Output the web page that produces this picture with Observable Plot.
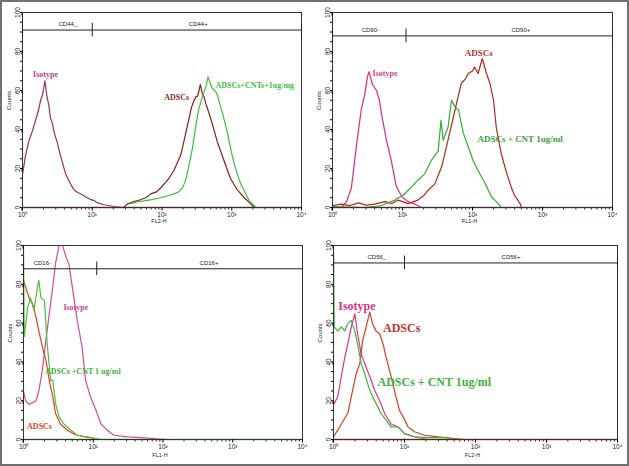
<!DOCTYPE html>
<html>
<head>
<meta charset="utf-8">
<script src="https://cdn.jsdelivr.net/npm/d3@7"></script>
<script src="https://cdn.jsdelivr.net/npm/@observablehq/plot@0.6"></script>
<style>
  html, body { margin: 0; padding: 0; background: #fff; }
  #wrap { position: relative; width: 629px; height: 466px; background: #fff; overflow: hidden; }
  #wrap svg { position: absolute; font-family: "Liberation Sans", Arial, sans-serif; }
  #border { position: absolute; left: 0; top: 0; width: 629px; height: 466px; box-sizing: border-box; border: 2px solid #707070; pointer-events: none; }
</style>
</head>
<body>
<div id="wrap"><div id="border"></div></div>
<script>
// x values are log10 of fluorescence (decade exponent), y values are counts
const xTickLabels = ["10⁰", "10¹", "10²", "10³", "10⁴"];

// Panel A: CD44 (FL2-H)
const cd44Isotype = [[0,17],[0.04,26],[0.09,34],[0.14,39],[0.19,45],[0.23,50],[0.26,55],[0.28,57],[0.3,60],[0.32,65],[0.34,60],[0.35,57],[0.38,52],[0.4,46],[0.43,43],[0.45,39],[0.5,33],[0.55,26],[0.62,17],[0.69,12],[0.74,9],[0.78,8],[0.83,7],[0.88,6],[0.93,5],[0.98,4],[1.03,3.5],[1.07,2.5],[1.17,1.4],[1.31,0.5],[1.45,0]];
const cd44ADSCs = [[1.45,0],[1.5,1.7],[1.6,3],[1.69,4],[1.77,5],[1.84,7],[1.92,8],[1.98,10],[2.08,14],[2.17,19],[2.22,23],[2.27,27],[2.34,38],[2.39,46],[2.42,51],[2.46,55],[2.49,57],[2.51,57],[2.53,60],[2.55,63],[2.58,58],[2.6,57],[2.63,53],[2.65,51],[2.72,43],[2.79,34],[2.85,28],[2.89,24],[2.98,15],[3.08,9],[3.18,5],[3.27,2],[3.32,0]];
const cd44CNT = [[1.55,2],[1.65,3],[1.74,3.4],[1.85,4],[1.98,5],[2.08,6],[2.17,7],[2.24,8],[2.29,10],[2.33,13],[2.36,17],[2.4,24],[2.44,31],[2.48,41],[2.53,51],[2.58,57],[2.63,62],[2.66,67],[2.69,64],[2.72,61],[2.76,60],[2.79,58],[2.83,53],[2.87,48],[2.94,38],[3.01,26],[3.08,17],[3.13,12],[3.18,8.6],[3.25,3.4],[3.32,1],[3.35,0]];

// Panel B: CD90 (FL1-H)
const cd90Isotype = [[0,0],[0.13,0],[0.2,3],[0.27,10],[0.31,22],[0.34,31],[0.38,42],[0.41,50],[0.46,58],[0.5,67],[0.52,69.6],[0.55,66],[0.57,63],[0.63,60],[0.67,55],[0.7,48],[0.77,34.5],[0.84,24],[0.91,11],[0.99,5.5],[1.08,3],[1.18,1.7],[1.27,0],[4,0]];
const cd90ADSCs = [[0,1],[0.13,1.7],[0.25,1],[0.37,2.4],[0.48,1.2],[0.6,1.7],[0.75,3],[0.85,2],[0.94,3.8],[1.08,2],[1.22,3.8],[1.3,6],[1.37,9],[1.46,12],[1.56,21],[1.65,34.5],[1.75,50],[1.84,63.6],[1.9,66],[1.94,68.7],[2.0,70],[2.03,72],[2.08,68.7],[2.14,76.4],[2.2,68.7],[2.25,63.6],[2.3,55],[2.34,41],[2.41,27.7],[2.49,17.4],[2.56,9.7],[2.6,6.3],[2.68,2],[2.7,0]];
const cd90CNT = [[0,0.5],[0.46,0],[0.7,1],[0.89,3.8],[1.01,6.3],[1.13,10.6],[1.22,14],[1.32,17.4],[1.41,24],[1.51,29],[1.55,44.8],[1.58,34.5],[1.65,41],[1.7,55],[1.75,51.6],[1.8,50],[1.87,38],[1.94,31],[2.01,24],[2.08,19],[2.18,12.3],[2.27,5.5],[2.37,2],[2.41,0]];

// Panel C: CD16 (FL1-H)
const cd16Isotype = [[0,25],[0.03,20],[0.08,18],[0.13,19],[0.18,20],[0.22,25],[0.27,35.7],[0.32,51],[0.37,65],[0.42,78.7],[0.46,91],[0.51,100],[0.56,100],[0.61,94],[0.65,90.6],[0.7,78.7],[0.77,61.4],[0.84,47.7],[0.89,30.5],[0.96,22],[1.04,15],[1.11,8],[1.2,4.8],[1.3,2.2],[1.49,1.4],[1.68,1],[1.87,0.5],[2.06,0]];
const cd16ADSCs = [[0,82],[0.03,78.6],[0.08,73],[0.13,70],[0.18,63],[0.22,56],[0.27,47.7],[0.32,41],[0.37,30.5],[0.42,22],[0.46,13.4],[0.53,8],[0.63,4.8],[0.73,2.7],[0.87,1.4],[1.01,0.5],[1.06,0]];
const cd16CNT = [[0,100],[0.01,53],[0.06,68],[0.1,73],[0.15,66.6],[0.2,78.6],[0.22,82],[0.25,73],[0.3,71.7],[0.34,49],[0.39,30.5],[0.42,30.5],[0.46,18.5],[0.51,11.7],[0.58,8],[0.68,4.8],[0.77,2.2],[0.92,1.4],[1.11,0],[4,0]];

// Panel D: CD56 (FL2-H)
const cd56Isotype = [[0.01,18.5],[0.06,22],[0.11,32.6],[0.16,42.5],[0.2,49],[0.25,58],[0.3,64.8],[0.34,54.5],[0.39,44],[0.44,39],[0.51,32.6],[0.58,25.4],[0.65,20],[0.72,13.4],[0.81,8],[0.91,6.5],[1.0,3],[1.14,1.4],[1.33,0]];
const cd56ADSCs = [[0,1.4],[0.06,4.8],[0.11,8],[0.2,13.4],[0.27,25.4],[0.32,34],[0.37,39],[0.41,51],[0.46,58],[0.51,65.7],[0.55,59.7],[0.6,56],[0.65,54.5],[0.7,49],[0.74,42.5],[0.81,32.6],[0.88,22],[0.93,15],[0.98,11.7],[1.05,6.5],[1.14,4],[1.28,2.2],[1.47,1.4],[1.7,0.5],[1.85,0],[4,0]];
const cd56CNT = [[0,100],[0.01,58],[0.06,56],[0.11,58],[0.16,56],[0.2,59.7],[0.25,61.4],[0.3,56],[0.34,49],[0.39,39],[0.44,34],[0.48,28.8],[0.53,23.7],[0.6,18.5],[0.67,13.4],[0.74,10],[0.81,6.5],[0.91,6.5],[1.0,3],[1.14,1.4],[1.33,1],[1.61,1],[1.7,0]];

const minorX = d3.range(0, 4).flatMap(n => d3.range(2, 10).map(k => n + Math.log10(k)));

function panel(cfg) {
  const marks = [
    Plot.ruleY([0], {stroke: cfg.baseColor, strokeWidth: 1.6}),
    ...cfg.series.map(s => Plot.line(s.data, {x: d => d[0], y: d => d[1], stroke: s.color, strokeWidth: 1.2})),
    Plot.frame({stroke: "#333", strokeWidth: 1}),
    Plot.ruleY([{y: cfg.gateY, x1: 0, x2: 4}], {y: "y", x1: "x1", x2: "x2", stroke: "#222", strokeWidth: 1}),
    Plot.ruleX(cfg.gateTicks, {x: d => d, y1: cfg.gateY - 3.5, y2: cfg.gateY + 3.5, stroke: "#222", strokeWidth: 1}),
    Plot.text(cfg.gateLabels, {x: d => d[0], y: cfg.gateY, text: d => d[1], dy: -6, fontSize: 6, fill: "#222"}),
    ...cfg.labels.map(l => Plot.text([l], {x: d => d.x, y: d => d.y, text: d => d.t, fill: l.color, fontSize: l.size, fontWeight: "bold", fontFamily: "Liberation Serif, Times New Roman, serif"})),
    Plot.axisX(minorX, {tickSize: 2.5, tickFormat: () => "", stroke: "#333"}),
    Plot.axisX([0,1,2,3,4], {tickSize: 3.5, tickPadding: 1, tickFormat: d => xTickLabels[d], fontSize: 6.5, fill: "#222", label: null}),
    Plot.axisY(d3.range(0, 101, 5), {tickSize: 2, tickFormat: () => "", label: null}),
    Plot.axisY([0,20,40,60,80,100], {tickSize: 3, tickPadding: 2, rotate: -90, textAnchor: "middle", fontSize: 6.5, fill: "#222", label: null}),
    Plot.text(["Counts"], {frameAnchor: "left", dx: -13, rotate: -90, fontSize: 6, fill: "#222"}),
    Plot.text([cfg.xLabel], {frameAnchor: "bottom", dx: -3, dy: cfg.xLabelDy, fontSize: 5.5, fill: "#222"})
  ];
  const svg = Plot.plot({
    width: cfg.width, height: cfg.height,
    marginLeft: cfg.ml, marginRight: cfg.mr, marginTop: cfg.mt, marginBottom: cfg.mb,
    x: {type: "linear", domain: [0, 4]},
    y: {domain: [0, 100]},
    style: {background: "transparent", fontFamily: "Liberation Sans, Arial, sans-serif"},
    marks
  });
  svg.style.left = cfg.left + "px";
  svg.style.top = cfg.top + "px";
  document.getElementById("wrap").insertBefore(svg, document.getElementById("border"));
}

panel({
  left: 0, top: 0, width: 314, height: 230, ml: 22, mr: 13, mt: 12, mb: 23,
  baseColor: "#d42a2a", xLabel: "FL2-H", xLabelDy: 15,
  series: [
    {data: cd44Isotype, color: "#9a2f62"},
    {data: cd44ADSCs, color: "#8a1c1c"},
    {data: cd44CNT, color: "#3cbf3c"}
  ],
  gateY: 91, gateTicks: [0, 1, 4], gateLabels: [[0.65, "CD44_"], [2.52, "CD44+"]],
  labels: [
    {x: 0.33, y: 68, t: "Isotype", color: "#c23a7e", size: 8},
    {x: 2.21, y: 56.4, t: "ADSCs", color: "#8a1f1f", size: 8},
    {x: 3.33, y: 62.6, t: "ADSCs+CNTs+1ug/mg", color: "#3cbf3c", size: 8}
  ]
});

panel({
  left: 314, top: 0, width: 315, height: 230, ml: 18, mr: 17, mt: 12, mb: 23,
  baseColor: "#d83a8a", xLabel: "FL1-H", xLabelDy: 15,
  series: [
    {data: cd90Isotype, color: "#d92c7c"},
    {data: cd90ADSCs, color: "#b02a1c"},
    {data: cd90CNT, color: "#32ae32"}
  ],
  gateY: 88, gateTicks: [0, 1.05, 4], gateLabels: [[0.54, "CD90-"], [2.69, "CD90+"]],
  labels: [
    {x: 0.75, y: 68.7, t: "Isotype", color: "#d8408c", size: 8},
    {x: 2.09, y: 79, t: "ADSCs", color: "#c0302a", size: 9},
    {x: 2.68, y: 34.9, t: "ADSCs + CNT 1ug/ml", color: "#3ca03c", size: 9}
  ]
});

panel({
  left: 0, top: 230, width: 314, height: 236, ml: 23, mr: 12, mt: 15, mb: 27,
  baseColor: "#3cbf3c", xLabel: "FL1-H", xLabelDy: 17,
  series: [
    {data: cd16Isotype, color: "#d44a9e"},
    {data: cd16ADSCs, color: "#e0421e"},
    {data: cd16CNT, color: "#4cbf3c"}
  ],
  gateY: 88, gateTicks: [0, 1.05], gateLabels: [[0.27, "CD16-"], [2.66, "CD16+"]],
  labels: [
    {x: 0.75, y: 68, t: "Isotype", color: "#d04a9a", size: 8},
    {x: 0.85, y: 35, t: "ADSCs +CNT 1 ug/ml", color: "#44b03a", size: 8},
    {x: 0.23, y: 6.7, t: "ADSCs", color: "#e0401e", size: 8}
  ]
});

panel({
  left: 314, top: 230, width: 315, height: 236, ml: 19, mr: 12, mt: 15, mb: 27,
  baseColor: "#d8401e", xLabel: "FL2-H", xLabelDy: 17,
  series: [
    {data: cd56Isotype, color: "#e0308c"},
    {data: cd56ADSCs, color: "#d4401e"},
    {data: cd56CNT, color: "#3cb43c"}
  ],
  gateY: 91, gateTicks: [0, 1, 4], gateLabels: [[0.61, "CD56_"], [2.5, "CD56+"]],
  labels: [
    {x: 0.33, y: 68.6, t: "Isotype", color: "#e0307e", size: 12},
    {x: 0.96, y: 57.2, t: "ADSCs", color: "#c8301e", size: 12},
    {x: 1.42, y: 29.4, t: "ADSCs + CNT 1ug/ml", color: "#3cb43c", size: 12}
  ]
});
</script>
</body>
</html>
